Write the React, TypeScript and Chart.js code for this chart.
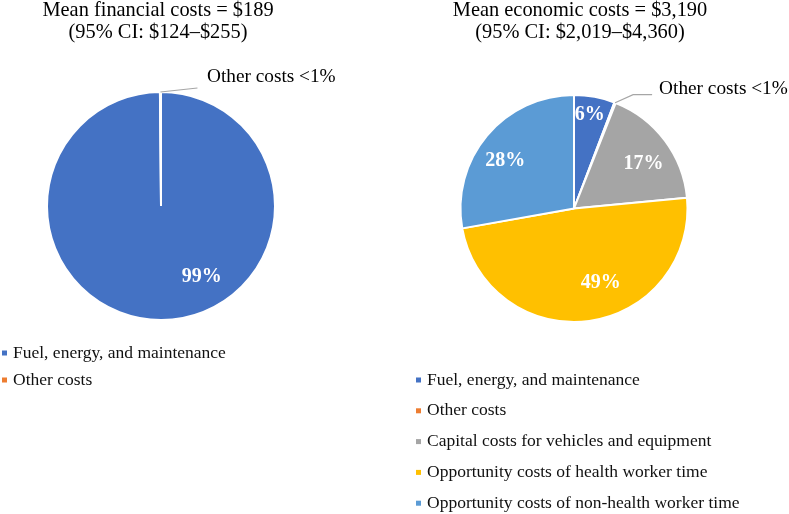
import React, { useEffect, useRef } from "react";
import { Chart, registerables } from "chart.js";

Chart.register(...registerables);

// ---------- data ----------
const financialTitle = ["Mean financial costs = $189", "(95% CI: $124–$255)"];
const financialCategories = ["Fuel, energy, and maintenance", "Other costs"];
const financialValues = [99.85, 0.15];
const financialLabels = ["99%", "Other costs <1%"];

const economicTitle = ["Mean economic costs = $3,190", "(95% CI: $2,019–$4,360)"];
const economicCategories = [
  "Fuel, energy, and maintenance",
  "Other costs",
  "Capital costs for vehicles and equipment",
  "Opportunity costs of health worker time",
  "Opportunity costs of non-health worker time",
];
const economicValues = [5.8, 0.2, 17.5, 48.7, 27.8];
const economicLabels = ["6%", "Other costs <1%", "17%", "49%", "28%"];

const financialColors = ["#4472C4", "#ED7D31"];
const economicColors = ["#4472C4", "#ED7D31", "#A5A5A5", "#FFC000", "#5B9BD5"];

const FONT = "'Liberation Serif', 'Times New Roman', serif";

// ---------- plugin for titles, slice labels and legend ----------
const decoPlugin = {
  id: "deco",
  afterDraw(chart: any, _args: any, opts: any) {
    const ctx = chart.ctx;
    ctx.save();
    // title
    if (opts.title) {
      const t = opts.title;
      ctx.font = `${t.size}px ${FONT}`;
      ctx.fillStyle = "#000";
      ctx.textAlign = "center";
      ctx.textBaseline = "middle";
      t.lines.forEach((line: string, i: number) => {
        ctx.fillText(line, t.x, t.y + i * t.lineHeight);
      });
    }
    // slice labels
    const meta = chart.getDatasetMeta(0);
    const texts: string[] = opts.labels || [];
    const cfg: any[] = opts.labelCfg || [];
    meta.data.forEach((arc: any, i: number) => {
      const c = cfg[i];
      const txt = texts[i];
      if (!c || !txt) return;
      const p = arc.getProps(["x", "y", "startAngle", "endAngle", "outerRadius"], true);
      const mid = (p.startAngle + p.endAngle) / 2;
      if (c.mode === "inside") {
        const a = mid + ((c.da || 0) * Math.PI) / 180;
        const r = p.outerRadius * c.r;
        ctx.font = `bold ${c.size}px ${FONT}`;
        ctx.fillStyle = "#fff";
        ctx.textAlign = "center";
        ctx.textBaseline = "middle";
        ctx.fillText(txt, p.x + Math.cos(a) * r, p.y + Math.sin(a) * r);
      } else {
        const ex = p.x + Math.cos(mid) * p.outerRadius;
        const ey = p.y + Math.sin(mid) * p.outerRadius;
        ctx.strokeStyle = "#A6A6A6";
        ctx.lineWidth = 1.2;
        ctx.beginPath();
        ctx.moveTo(ex, ey);
        c.path.forEach((pt: number[]) => ctx.lineTo(ex + pt[0], ey + pt[1]));
        ctx.stroke();
        ctx.font = `${c.size}px ${FONT}`;
        ctx.fillStyle = "#000";
        ctx.textAlign = "left";
        ctx.textBaseline = "middle";
        ctx.fillText(txt, ex + c.text[0], ey + c.text[1]);
      }
    });
    // legend
    if (opts.legend) {
      const lg = opts.legend;
      const labels: string[] = chart.data.labels;
      const colors: string[] = chart.data.datasets[0].backgroundColor;
      ctx.font = `${lg.size}px ${FONT}`;
      ctx.textAlign = "left";
      ctx.textBaseline = "middle";
      labels.forEach((lab: string, i: number) => {
        const y = lg.y + i * lg.step;
        ctx.fillStyle = colors[i];
        ctx.fillRect(lg.x, y - lg.box / 2, lg.box, lg.box);
        ctx.fillStyle = "#111";
        ctx.fillText(lab, lg.x + lg.textGap, y);
      });
    }
    ctx.restore();
  },
};

function PieChart(props: {
  left: number;
  width: number;
  categories: string[];
  values: number[];
  colors: string[];
  padding: any;
  deco: any;
}) {
  const ref = useRef<HTMLCanvasElement | null>(null);
  useEffect(() => {
    if (!ref.current) return;
    const chart = new Chart(ref.current, {
      type: "pie",
      data: {
        labels: props.categories,
        datasets: [
          {
            data: props.values,
            backgroundColor: props.colors,
            borderColor: "#ffffff",
            borderWidth: 2,
          },
        ],
      },
      options: {
        animation: false,
        responsive: false,
        maintainAspectRatio: false,
        layout: { padding: props.padding },
        plugins: {
          legend: { display: false },
          title: { display: false },
          tooltip: { enabled: false },
          deco: props.deco,
        } as any,
      },
      plugins: [decoPlugin],
    });
    return () => chart.destroy();
  }, []);
  return (
    <canvas
      ref={ref}
      width={props.width}
      height={514}
      style={{ position: "absolute", left: props.left, top: 0, width: props.width, height: 514 }}
    />
  );
}

export default function App() {
  return (
    <div style={{ position: "fixed", left: 0, top: 0, width: 789, height: 514, background: "#fff" }}>
      <PieChart
        left={0}
        width={394}
        categories={financialCategories}
        values={financialValues}
        colors={financialColors}
        padding={{ left: 46, right: 118, top: 91, bottom: 193 }}
        deco={{
          title: { lines: financialTitle, x: 158, y: 11, lineHeight: 22, size: 20.4 },
          labels: financialLabels,
          labelCfg: [
            { mode: "inside", r: 0.72, da: -29.5, size: 20 },
            { mode: "outside", path: [[37, -4]], text: [46.5, -15], size: 19.3 },
          ],
          legend: { x: 2, y: 353, step: 27, box: 5, textGap: 11, size: 17.5 },
        }}
      />
      <PieChart
        left={394}
        width={395}
        categories={economicCategories}
        values={economicValues}
        colors={economicColors}
        padding={{ left: 65, right: 100, top: 94, bottom: 191 }}
        deco={{
          title: { lines: economicTitle, x: 186, y: 11, lineHeight: 22, size: 20.4 },
          labels: economicLabels,
          labelCfg: [
            { mode: "inside", r: 0.84, da: -1, size: 20 },
            { mode: "outside", path: [[18, -8], [37, -8]], text: [44, -14], size: 19.3 },
            { mode: "inside", r: 0.73, da: 4, size: 20 },
            { mode: "inside", r: 0.7, da: -12, size: 20 },
            { mode: "inside", r: 0.74, da: -5, size: 20 },
          ],
          legend: { x: 22, y: 380, step: 30.8, box: 5, textGap: 11, size: 17.5 },
        }}
      />
    </div>
  );
}
